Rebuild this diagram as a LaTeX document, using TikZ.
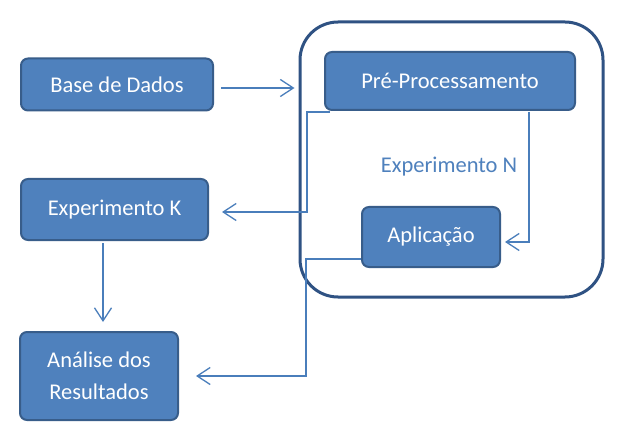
\documentclass[tikz,border=0pt]{standalone}
\usepackage{fontspec}
\setmainfont{Carlito}
\usetikzlibrary{arrows.meta}
\definecolor{boxfill}{HTML}{4F81BD}
\definecolor{boxline}{HTML}{385D8A}
\definecolor{bigline}{HTML}{2F5283}
\definecolor{connc}{HTML}{4A7EBB}
\tikzset{
  stepbox/.style={draw=boxline, line width=2pt, fill=boxfill, rounded corners=7pt,
    text=white, font=\fontsize{22.5}{32}\selectfont, inner sep=0pt, align=center},
  conn/.style={draw=connc, line width=1.3pt, -{Straight Barb[length=13pt,width=17pt,line width=1.3pt]}}
}
\begin{document}
\begin{tikzpicture}[x=1pt,y=-1pt]
\useasboundingbox (0,0) rectangle (619,433);
\fill[white] (0,0) rectangle (619,433);
% big container
\node[draw=bigline, line width=3pt, rounded corners=38pt, minimum width=303pt, minimum height=275pt, inner sep=0pt] (big) at (451.5,159.5) {};
% boxes
\node[stepbox, minimum width=192pt, minimum height=52pt] (base) at (117,84.5) {Base de Dados};
\node[stepbox, minimum width=187pt, minimum height=61pt] (expk) at (114.5,209.5) {Experimento K};
\node[stepbox, minimum width=158pt, minimum height=88pt] (anal) at (99,376) {Análise dos\\Resultados\hspace{14pt}};
\node[stepbox, minimum width=250pt, minimum height=58pt] (pre) at (450,81) {Pré-Processamento};
\node[stepbox, minimum width=138pt, minimum height=60pt] (apl) at (431,237) {Aplicação};
\node[text=boxfill, font=\fontsize{22.5}{28}\selectfont, inner sep=0pt] (expn) at (449,167) {Experimento N};
% connectors
\coordinate (b1) at ([xshift=7pt,yshift=-3.5pt]base.east);
\draw[conn] (b1) -- ([xshift=-4pt]b1 -| big.west);
\coordinate (p1) at ([xshift=6pt,yshift=-1pt]pre.south west);
\coordinate (k1) at ([xshift=13pt,yshift=-2.5pt]expk.east);
\draw[conn] (p1) -- ++(-23,0) |- (k1);
\coordinate (p2) at ([xshift=-47pt,yshift=-1pt]pre.south east);
\coordinate (a1) at ([xshift=4pt,yshift=-5pt]apl.east);
\draw[conn] (p2) |- (a1);
\coordinate (a2) at ([yshift=9pt]apl.south west);
\coordinate (r1) at ([xshift=17pt]anal.east);
\draw[conn] (a2) -- ++(-55,0) |- (r1);
\coordinate (k2) at ([xshift=-11.5pt,yshift=-2pt]expk.south);
\draw[conn] (k2) -- ([yshift=9pt]k2 |- anal.north);
\end{tikzpicture}
\end{document}
